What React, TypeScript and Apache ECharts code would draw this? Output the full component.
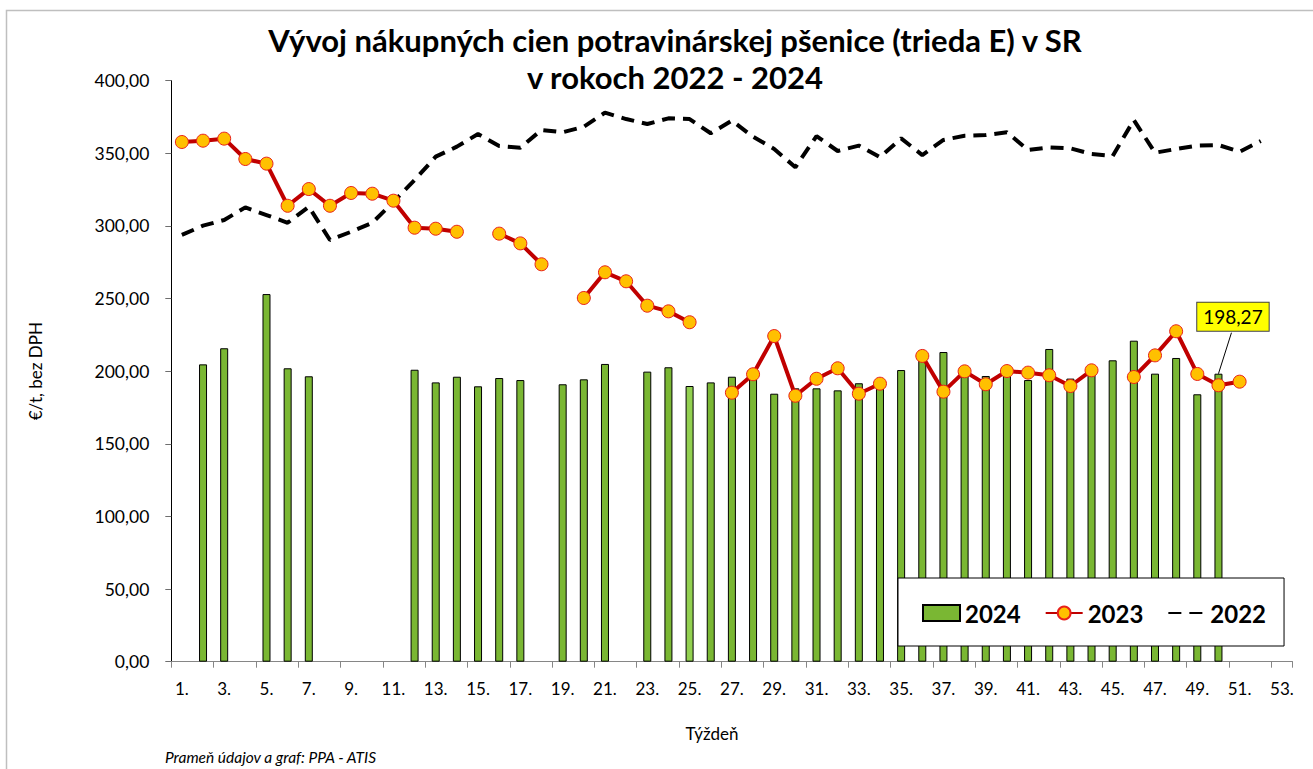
import React, { useEffect, useRef } from 'react';
import * as echarts from 'echarts';

const weeks: string[] = [
  '1.', '2.', '3.', '4.', '5.', '6.', '7.', '8.', '9.', '10.',
  '11.', '12.', '13.', '14.', '15.', '16.', '17.', '18.', '19.', '20.',
  '21.', '22.', '23.', '24.', '25.', '26.', '27.', '28.', '29.', '30.',
  '31.', '32.', '33.', '34.', '35.', '36.', '37.', '38.', '39.', '40.',
  '41.', '42.', '43.', '44.', '45.', '46.', '47.', '48.', '49.', '50.',
  '51.', '52.', '53.',
];

const prices2024: (number | null)[] = [
  null, 204.7, 215.8, null, 253.1, 202.0, 196.5, null, null, null,
  null, 201.0, 192.3, 196.2, 189.6, 195.3, 193.9, null, 191.0, 194.4,
  205.0, null, 199.7, 202.7, 189.8, 192.3, 196.2, 196.0, 184.5, 188.2,
  188.2, 186.8, 191.7, 189.8, 200.8, 210.5, 213.2, 199.5, 196.7, 201.0,
  193.9, 215.3, 194.9, 199.5, 207.5, 221.0, 198.3, 209.1, 184.1, 198.27,
  null, null, null,
];

const prices2023: (number | null)[] = [
  357.8, 358.7, 360.1, 346.1, 342.9, 313.9, 325.4, 313.9, 322.7, 322.2,
  317.4, 298.8, 298.1, 296.0, null, 294.7, 288.0, 273.6, null, 250.4,
  268.1, 261.9, 245.1, 241.2, 233.7, null, 185.2, 197.9, 224.2, 183.1,
  194.8, 202.0, 184.5, 191.4, null, 210.5, 185.9, 199.9, 191.0, 200.1,
  199.0, 197.2, 189.8, 200.6, null, 196.0, 210.9, 227.5, 198.1, 190.3,
  192.8, null, null,
];

const prices2022: (number | null)[] = [
  293.8, 300.2, 304.1, 312.8, 307.5, 302.2, 313.2, 290.3, 296.0, 302.2,
  316.5, 331.6, 347.7, 354.6, 363.3, 355.0, 353.9, 366.1, 364.5, 368.3,
  378.0, 373.6, 370.2, 374.1, 373.6, 363.8, 372.5, 361.4, 353.0, 340.4,
  361.9, 351.6, 355.3, 347.3, 360.3, 348.8, 359.2, 362.1, 362.6, 364.5,
  352.3, 354.1, 353.4, 349.5, 348.2, 372.9, 350.4, 353.0, 355.3, 355.7,
  351.1, 358.5, null,
];

const seriesNames = ['2024', '2023', '2022'];
const titleLines = ['Vývoj nákupných cien potravinárskej pšenice (trieda E) v SR', 'v rokoch 2022 - 2024'];
const yAxisName = '€/t, bez DPH';
const xAxisName = 'Týždeň';
const sourceNote = 'Prameň údajov a graf: PPA - ATIS';
const lighterBarWeek = '25.';
const labelledWeek = '50.';

const FONT = 'Lato, "Open Sans", "Noto Sans", sans-serif';
const fmt = (v: number) => v.toFixed(2).replace('.', ',');

export default function App() {
  const ref = useRef<HTMLDivElement>(null);

  useEffect(() => {
    document.body.style.margin = '0';
    const chart = echarts.init(ref.current!, undefined, { renderer: 'svg' });

    const barData = prices2024.map((v, i) =>
      weeks[i] === lighterBarWeek && v != null
        ? { value: v, itemStyle: { color: '#92D050' } }
        : v
    );

    const option: any = {
      animation: false,
      backgroundColor: '#fff',
      textStyle: { fontFamily: FONT },
      title: {
        text: titleLines.join('\n'),
        left: 670,
        top: 16,
        textAlign: 'center',
        textStyle: {
          fontFamily: FONT,
          fontSize: 31,
          fontWeight: 'bold',
          color: '#000',
          lineHeight: 37,
        },
      },
      grid: { left: 171.3, right: 20.5, top: 80.7, bottom: 107.3, containLabel: false },
      legend: {
        data: [
          { name: seriesNames[0], icon: 'rect' },
          { name: seriesNames[1] },
          { name: seriesNames[2], itemStyle: { opacity: 0 } },
        ],
        left: 898,
        top: 578,
        orient: 'horizontal',
        padding: [23, 18, 21, 24],
        itemGap: 24,
        itemWidth: 37,
        itemHeight: 16,
        borderColor: '#000',
        borderWidth: 1,
        backgroundColor: '#fff',
        textStyle: { fontFamily: FONT, fontSize: 24, fontWeight: 'bold', color: '#000' },
      },
      xAxis: {
        type: 'category',
        data: weeks,
        boundaryGap: true,
        axisLine: { lineStyle: { color: '#868686', width: 1 } },
        axisTick: { show: true, interval: 1, length: 6, lineStyle: { color: '#868686' } },
        axisLabel: { interval: 1, fontSize: 17, color: '#000', margin: 18, fontFamily: FONT },
      },
      yAxis: {
        type: 'value',
        min: 0,
        max: 400,
        interval: 50,
        name: yAxisName,
        nameLocation: 'middle',
        nameGap: 127,
        nameRotate: 90,
        nameTextStyle: { fontSize: 17, color: '#000', fontFamily: FONT },
        axisLine: { show: true, lineStyle: { color: '#000', width: 1 } },
        axisTick: { show: true, length: 6, lineStyle: { color: '#6e6e6e' } },
        splitLine: { show: false },
        axisLabel: { fontSize: 17.5, color: '#000', margin: 22, formatter: (v: number) => fmt(v), fontFamily: FONT },
      },
      series: [
        {
          name: seriesNames[0],
          type: 'bar',
          data: barData,
          barWidth: 8,
          itemStyle: { color: '#7AB733', borderColor: '#000', borderWidth: 1 },
          z: 1,
        },
        {
          name: seriesNames[1],
          type: 'line',
          data: prices2023,
          connectNulls: false,
          symbol: 'circle',
          symbolSize: 13,
          showSymbol: true,
          lineStyle: { color: '#C00000', width: 4 },
          itemStyle: { color: '#FFC000', borderColor: '#E8201A', borderWidth: 1 },
          z: 4,
        },
        {
          name: seriesNames[2],
          type: 'line',
          data: prices2022,
          symbol: 'none',
          showSymbol: false,
          lineStyle: { color: '#000', width: 4, type: [13, 8] },
          itemStyle: { color: '#000' },
          z: 3,
        },
      ],
      graphic: [
        {
          id: 'frame',
          type: 'rect',
          z: -10,
          silent: true,
          shape: { x: 6.5, y: 10.5, width: 1400, height: 900 },
          style: { fill: 'none', stroke: '#BFBFBF', lineWidth: 1.5 },
        },
        {
          id: 'xname',
          type: 'text',
          silent: true,
          style: {
            text: xAxisName,
            x: 712,
            y: 733,
            fontSize: 17,
            fontFamily: FONT,
            fill: '#000',
            align: 'center',
            verticalAlign: 'middle',
          },
        },
        {
          id: 'source',
          type: 'text',
          silent: true,
          style: {
            text: sourceNote,
            x: 165,
            y: 757,
            fontSize: 15.5,
            fontStyle: 'italic',
            fontFamily: FONT,
            fill: '#000',
            align: 'left',
            verticalAlign: 'middle',
          },
        },
      ],
    };

    chart.setOption(option);

    // Callout label for the last 2024 value, positioned through the chart's own scales
    const idx = weeks.indexOf(labelledWeek);
    const val = prices2024[idx] as number;
    const [bx, by] = chart.convertToPixel({ xAxisIndex: 0, yAxisIndex: 0 }, [idx, val]) as number[];
    chart.setOption({
      graphic: [
        {
          id: 'calloutLine',
          type: 'line',
          silent: true,
          z: 10,
          shape: { x1: bx, y1: by, x2: bx + 13, y2: by - 41 },
          style: { stroke: '#000', lineWidth: 1 },
        },
        {
          id: 'calloutText',
          type: 'text',
          silent: true,
          z: 11,
          style: {
            text: fmt(val),
            x: bx + 14.5,
            y: by - 57,
            align: 'center',
            verticalAlign: 'middle',
            fontSize: 19,
            fontFamily: FONT,
            fill: '#000',
            backgroundColor: '#FFFF00',
            borderColor: '#404040',
            borderWidth: 1,
            padding: [5, 6, 4, 6],
          },
        },
      ],
    });

    return () => chart.dispose();
  }, []);

  return (
    <div
      ref={ref}
      style={{ position: 'absolute', left: 0, top: 0, width: 1313, height: 769 }}
    />
  );
}
